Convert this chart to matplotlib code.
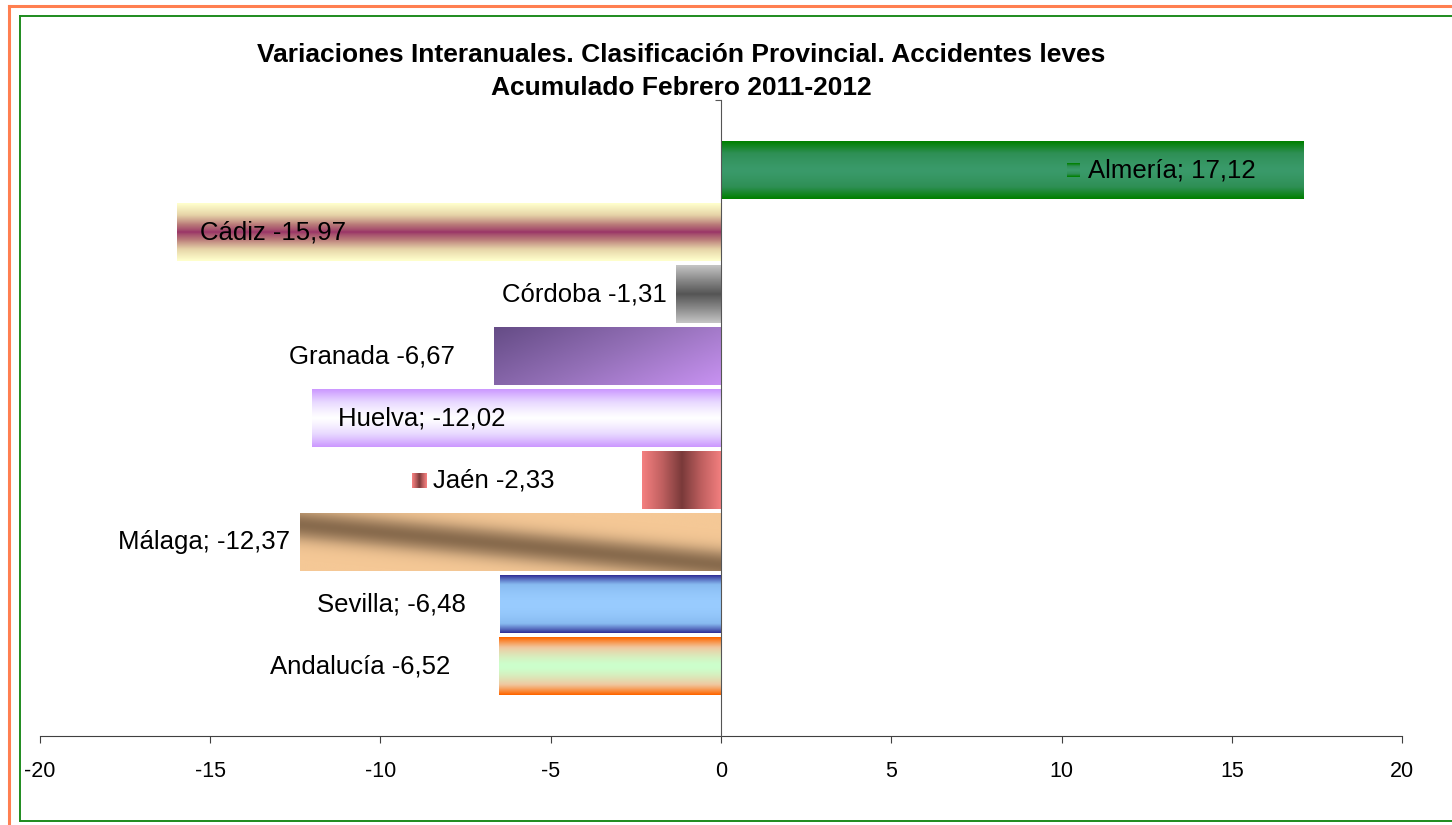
import numpy as np
import matplotlib
matplotlib.use("Agg")
import matplotlib.pyplot as plt
from matplotlib.colors import LinearSegmentedColormap
from matplotlib.lines import Line2D

plt.rcParams['font.family'] = ['Liberation Sans', 'DejaVu Sans']

# data
provincias = ['Almería', 'Cádiz', 'Córdoba', 'Granada', 'Huelva', 'Jaén',
              'Málaga', 'Sevilla', 'Andalucía']
variacion = [17.12, -15.97, -1.31, -6.67, -12.02, -2.33, -12.37, -6.48, -6.52]
etiquetas = ['Almería; 17,12', 'Cádiz -15,97', 'Córdoba -1,31', 'Granada -6,67',
             'Huelva; -12,02', 'Jaén -2,33', 'Málaga; -12,37', 'Sevilla; -6,48',
             'Andalucía -6,52']
xticks = [-20, -15, -10, -5, 0, 5, 10, 15, 20]

# label placement (x in data units, alignment)
lab_pos = [(10.78, 'left'), (-15.30, 'left'), (-1.59, 'right'), (-7.81, 'right'),
           (-11.25, 'left'), (-8.46, 'left'), (-12.66, 'right'), (-7.49, 'right'),
           (-7.96, 'right')]


def cm(cols):
    return LinearSegmentedColormap.from_list('g', cols)


# gradient fills: colormap + function of u (left->right), v (top->bottom)
def sym_v(p=1.0):
    return lambda u, v: (np.abs(v - 0.5) * 2) ** p


def sym_u(u, v):
    return np.abs(u - 0.5) * 2


def diag(u, v):
    return 0.65 * u + 0.35 * v


def wood(u, v):
    d = v - (0.2 + 0.7 * u)
    return 1 - np.exp(-(d / 0.26) ** 2) * 0.9


fills = [
    (cm(['#3A9A6A', '#2E8F55', '#008000']), sym_v(1.3)),
    (cm(['#993366', '#B87878', '#E6D4A8', '#FFFFCC']), sym_v(0.8)),
    (cm(['#555555', '#8A8A8A', '#C4C4C4']), sym_v(1.0)),
    (cm(['#654C86', '#9470B8', '#C892F2']), diag),
    (cm(['#FFFFFF', '#E8D8FF', '#CC99FF']), sym_v(1.2)),
    (cm(['#7A3A3A', '#C06060', '#F48080']), sym_u),
    (cm(['#7E6246', '#B4916C', '#F5C896']), wood),
    (cm(['#99CCFF', '#88BBF0', '#333399']), sym_v(1.8)),
    (cm(['#CCFFCC', '#F0C8A0', '#FF6600']), sym_v(1.6)),
]

fig = plt.figure(figsize=(14.52, 8.25), dpi=100)
ax = fig.add_axes([40 / 1452, 89 / 825, 1362 / 1452, 636 / 825])

ylo, yhi = 9.121, -1.137
h = 0.92
uu, vv = np.meshgrid(np.linspace(0, 1, 200), np.linspace(0, 1, 60))
for i, val in enumerate(variacion):
    cmap, f = fills[i]
    img = cmap(f(uu, vv))
    x0, x1 = min(0, val), max(0, val)
    ax.imshow(img, extent=(x0, x1, i + h / 2, i - h / 2), aspect='auto',
              interpolation='bilinear', zorder=2)
    xl, al = lab_pos[i]
    ax.text(xl, i, etiquetas[i], ha=al, va='center', fontsize=18.5,
            color='black', zorder=5)

# legend keys inside labels
key_u, key_v = np.meshgrid(np.linspace(0, 1, 20), np.linspace(0, 1, 20))
ax.imshow(fills[0][0](fills[0][1](key_u, key_v)), extent=(10.16, 10.54, 0.11, -0.11),
          aspect='auto', zorder=4)
ax.imshow(fills[5][0](fills[5][1](key_u, key_v)), extent=(-9.07, -8.63, 5.12, 4.88),
          aspect='auto', zorder=4)

ax.set_xlim(-20, 20)
ax.set_ylim(ylo, yhi)

for s in ['top', 'right']:
    ax.spines[s].set_visible(False)
ax.spines['left'].set_position(('data', 0))
ax.spines['left'].set_color('#555555')
ax.spines['bottom'].set_color('#404040')
ax.spines['left'].set_zorder(6)
ax.set_xticks(xticks)
ax.set_xticklabels([str(t) for t in xticks], fontsize=15.5)
ax.tick_params(axis='x', direction='out', length=5, pad=13, color='#404040')
ax.set_yticks([yhi])
ax.set_yticklabels([''])
ax.tick_params(axis='y', direction='out', length=4, color='#555555')
ax.patch.set_alpha(0)

fig.text(681 / 1452, 1 - 55 / 825,
         'Variaciones Interanuales. Clasificación Provincial. Accidentes leves',
         ha='center', va='center', fontsize=19, fontweight='bold')
fig.text(681 / 1452, 1 - 88 / 825, 'Acumulado Febrero 2011-2012',
         ha='center', va='center', fontsize=19, fontweight='bold')

# chart borders
W, H = 1452, 825
fig.add_artist(Line2D([9 / W, 9 / W], [0, 1 - 6 / H], color='#FF7F50', lw=2.2))
fig.add_artist(Line2D([9 / W, 1], [1 - 6 / H, 1 - 6 / H], color='#FF7F50', lw=2.2))
fig.add_artist(Line2D([20 / W, 20 / W], [1 - 16 / H, 4 / H], color='#1E8B1E', lw=1.4))
fig.add_artist(Line2D([20 / W, 1], [1 - 16 / H, 1 - 16 / H], color='#1E8B1E', lw=1.4))
fig.add_artist(Line2D([20 / W, 1], [4 / H, 4 / H], color='#1E8B1E', lw=1.4))

fig.savefig('out.png', dpi=100)
